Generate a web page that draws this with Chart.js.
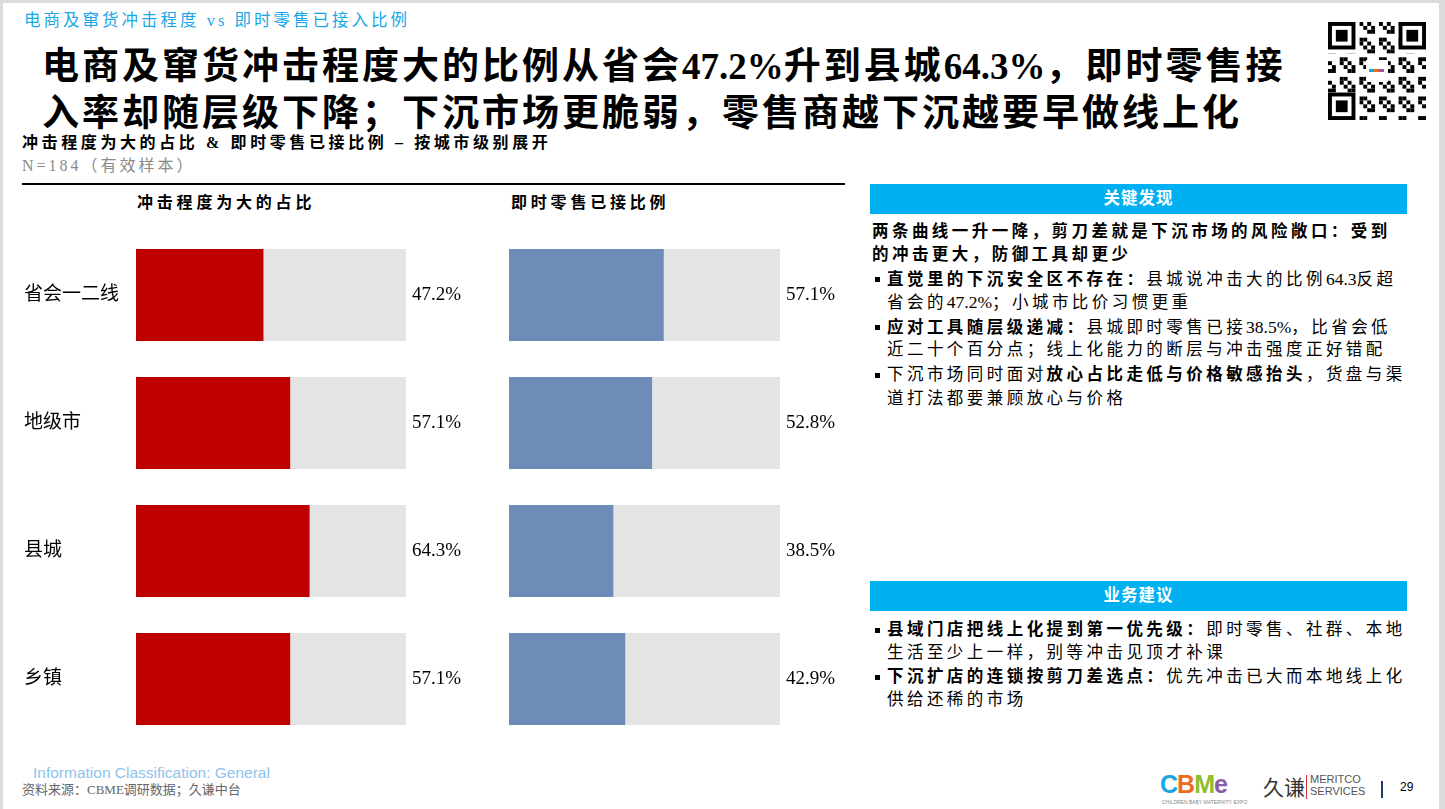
<!DOCTYPE html>
<html>
<head>
<meta charset="utf-8">
<script src="https://cdn.jsdelivr.net/npm/chart.js@4/dist/chart.umd.min.js"></script>
<style>
  html, body { margin: 0; padding: 0; }
  body { width: 1445px; height: 809px; background: #dcdcdc; overflow: hidden; position: relative;
         font-family: "Liberation Serif", "Noto Sans CJK SC", serif; color: #000; }
  .slide { position: absolute; left: 3px; top: 3px; width: 1436px; height: 806px; background: #fff; }
  .abs { position: absolute; white-space: nowrap; }
  .kicker { left: 24px; top: 7px; font-size: 16.5px; color: #1AA7E8; letter-spacing: 3px; }
  .title { left: 42px; font-size: 37px; font-weight: bold; letter-spacing: 3px; }
  .num { letter-spacing: 0; }
  .sub { left: 22px; top: 129px; font-size: 16px; font-weight: bold; letter-spacing: 3.6px; }
  .n { left: 22px; top: 152px; font-size: 16px; color: #8a8a8a; letter-spacing: 3px; }
  .rule { position: absolute; left: 22px; top: 183px; width: 823px; height: 2px; background: #000; }
  .colhead { top: 189px; font-size: 16px; font-weight: bold; letter-spacing: 3.8px; }
  .boxhead { position: absolute; left: 870px; width: 537px; height: 30px; background: #00B0F0; color: #fff;
             font-size: 16.5px; font-weight: bold; text-align: center; line-height: 30px; letter-spacing: 1px; }
  .line { left: 872px; font-size: 16.5px; letter-spacing: 3.45px; line-height: 20px; }
  .line .num { font-size: 17.5px; }
  .ind { left: 887px; }
  .dot { position: absolute; left: 875px; width: 5px; height: 5px; background: #000; }
  b { font-weight: bold; }
  canvas { position: absolute; }
</style>
</head>
<body>
<div class="slide"></div>

<div class="abs kicker">电商及窜货冲击程度 vs 即时零售已接入比例</div>
<div class="abs title" style="top:36px">电商及窜货冲击程度大的比例从省会<span class="num">47.2%</span>升到县城<span class="num">64.3%</span>，即时零售接</div>
<div class="abs title" style="top:83px">入率却随层级下降；下沉市场更脆弱，零售商越下沉越要早做线上化</div>
<div class="abs sub">冲击程度为大的占比 &amp; 即时零售已接比例 – 按城市级别展开</div>
<div class="abs n">N=184（有效样本）</div>
<div class="rule"></div>
<div class="abs colhead" style="left:137px">冲击程度为大的占比</div>
<div class="abs colhead" style="left:511px">即时零售已接比例</div>

<canvas id="impactChart" width="456" height="512" style="left:24px;top:231px"></canvas>
<canvas id="retailChart" width="341" height="512" style="left:509px;top:231px"></canvas>

<!-- 关键发现 -->
<div class="boxhead" style="top:184px">关键发现</div>
<div class="abs line" style="top:222px"><b>两条曲线一升一降，剪刀差就是下沉市场的风险敞口：受到</b></div>
<div class="abs line" style="top:245px"><b>的冲击更大，防御工具却更少</b></div>
<div class="dot" style="top:277px"></div>
<div class="abs line ind" style="top:269px"><b>直觉里的下沉安全区不存在：</b>县城说冲击大的比例<span class="num">64.3</span>反超</div>
<div class="abs line ind" style="top:292px">省会的<span class="num">47.2%</span>；小城市比价习惯更重</div>
<div class="dot" style="top:325px"></div>
<div class="abs line ind" style="top:317px"><b>应对工具随层级递减：</b>县城即时零售已接<span class="num">38.5%</span>，比省会低</div>
<div class="abs line ind" style="top:340px">近二十个百分点；线上化能力的断层与冲击强度正好错配</div>
<div class="dot" style="top:373px"></div>
<div class="abs line ind" style="top:365px">下沉市场同时面对<b>放心占比走低与价格敏感抬头</b>，货盘与渠</div>
<div class="abs line ind" style="top:389px">道打法都要兼顾放心与价格</div>

<!-- 业务建议 -->
<div class="boxhead" style="top:581px">业务建议</div>
<div class="dot" style="top:628px"></div>
<div class="abs line ind" style="top:620px"><b>县域门店把线上化提到第一优先级：</b>即时零售、社群、本地</div>
<div class="abs line ind" style="top:643px">生活至少上一样，别等冲击见顶才补课</div>
<div class="dot" style="top:675px"></div>
<div class="abs line ind" style="top:667px"><b>下沉扩店的连锁按剪刀差选点：</b>优先冲击已大而本地线上化</div>
<div class="abs line ind" style="top:690px">供给还稀的市场</div>

<!-- QR placeholder -->
<canvas id="qr" width="98" height="98" style="left:1328px;top:22px"></canvas>

<!-- footer -->
<div class="abs" style="left:33px;top:764px;font-family:'Liberation Sans',Arial,sans-serif;font-size:15.5px;color:#8DC3EC">Information Classification: General</div>
<div class="abs" style="left:22px;top:779px;font-size:13px;color:#666">资料来源：CBME调研数据；久谦中台</div>
<div class="abs" style="left:1160px;top:770px;font-family:'Liberation Sans',Arial,sans-serif;font-size:25px;font-weight:bold;letter-spacing:-1px">
  <span style="color:#1BA6E0">C</span><span style="color:#EE6B1E">B</span><span style="color:#8DBE2B">M</span><span style="color:#8E5BA8">e</span>
</div>
<div class="abs" style="left:1162px;top:799px;font-family:'Liberation Sans',Arial,sans-serif;font-size:5px;color:#888">CHILDREN BABY MATERNITY EXPO</div>
<div class="abs" style="left:1263px;top:771px;font-size:21px;color:#333">久谦</div>
<div style="position:absolute;left:1306px;top:775px;width:1px;height:24px;background:#c33"></div>
<div class="abs" style="left:1310px;top:773px;font-family:'Liberation Sans',Arial,sans-serif;font-size:11px;line-height:12px;color:#555">MERITCO<br>SERVICES</div>
<div style="position:absolute;left:1381px;top:781px;width:1.5px;height:17px;background:#1e3a6e"></div>
<div class="abs" style="left:1400px;top:780px;font-family:'Liberation Sans',Arial,sans-serif;font-size:12px">29</div>

<script>
// city tiers, top to bottom
const CATEGORIES = ["省会一二线", "地级市", "县城", "乡镇"];
// share saying e-commerce / cross-region goods impact is large (%)
const IMPACT_LARGE = [47.2, 57.1, 64.3, 57.1];
// share already connected to instant retail (%)
const INSTANT_RETAIL = [57.1, 52.8, 38.5, 42.9];
// grey track behind each bar = full 100%
const TRACK = CATEGORIES.map(() => 100);

const LABEL_FONT = { family: "'Liberation Serif', 'Noto Sans CJK SC', serif", size: 19 };

function pct(v) {
  return v.toFixed(1) + "%";
}

// keep label half-heights from shrinking the plot area
function noPad(scale, width) {
  scale.width = width;
  scale.paddingTop = 0;
  scale.paddingBottom = 0;
}

function barChart(id, values, color, showCategories) {
  const ctx = document.getElementById(id);
  return new Chart(ctx, {
    type: "bar",
    data: {
      labels: CATEGORIES,
      datasets: [
        {
          data: values,
          backgroundColor: color,
          grouped: false,
          order: 0,
          barPercentage: 0.72,
          categoryPercentage: 1,
        },
        {
          data: TRACK,
          backgroundColor: "#E4E4E4",
          grouped: false,
          order: 1,
          barPercentage: 0.72,
          categoryPercentage: 1,
        },
      ],
    },
    options: {
      indexAxis: "y",
      responsive: false,
      animation: false,
      events: [],
      layout: { padding: 0 },
      plugins: { legend: { display: false }, tooltip: { enabled: false } },
      scales: {
        x: { min: 0, max: 100, display: false },
        y: {
          position: "left",
          offset: true,
          display: showCategories,
          grid: { display: false, drawTicks: false },
          border: { display: false },
          ticks: { crossAlign: "far", color: "#000", font: LABEL_FONT, padding: 0 },
          afterFit: (scale) => noPad(scale, showCategories ? 112 : 0),
        },
        yValue: {
          type: "category",
          axis: "y",
          position: "right",
          offset: true,
          labels: values.map(pct),
          grid: { display: false, drawTicks: false },
          border: { display: false },
          ticks: { crossAlign: "near", color: "#000", font: LABEL_FONT, padding: 6 },
          afterFit: (scale) => noPad(scale, showCategories ? 74 : 70),
        },
      },
    },
  });
}

barChart("impactChart", IMPACT_LARGE, "#C00000", true);
barChart("retailChart", INSTANT_RETAIL, "#6E8CB8", false);

// decorative QR-like block
(function drawQr() {
  const c = document.getElementById("qr").getContext("2d");
  const n = 25, s = 98 / n;
  c.fillStyle = "#fff";
  c.fillRect(0, 0, 98, 98);
  c.fillStyle = "#000";
  for (let i = 0; i < n; i++) {
    for (let j = 0; j < n; j++) {
      if (((i * 7 + j * 13 + i * j) % 5) < 2) c.fillRect(i * s, j * s, s, s);
    }
  }
  function finder(x, y) {
    c.fillStyle = "#fff"; c.fillRect(x * s, y * s, 8 * s, 8 * s);
    c.fillStyle = "#000"; c.fillRect(x * s, y * s, 7 * s, 7 * s);
    c.fillStyle = "#fff"; c.fillRect((x + 1) * s, (y + 1) * s, 5 * s, 5 * s);
    c.fillStyle = "#000"; c.fillRect((x + 2) * s, (y + 2) * s, 3 * s, 3 * s);
  }
  finder(0, 0); finder(18, 0); finder(0, 18);
  c.fillStyle = "#fff";
  c.fillRect(38, 38, 22, 22);
  c.fillStyle = "#1BA6E0"; c.fillRect(41, 47, 5, 3);
  c.fillStyle = "#EE6B1E"; c.fillRect(46, 47, 5, 3);
  c.fillStyle = "#8E5BA8"; c.fillRect(51, 47, 5, 3);
})();
</script>
</body>
</html>
